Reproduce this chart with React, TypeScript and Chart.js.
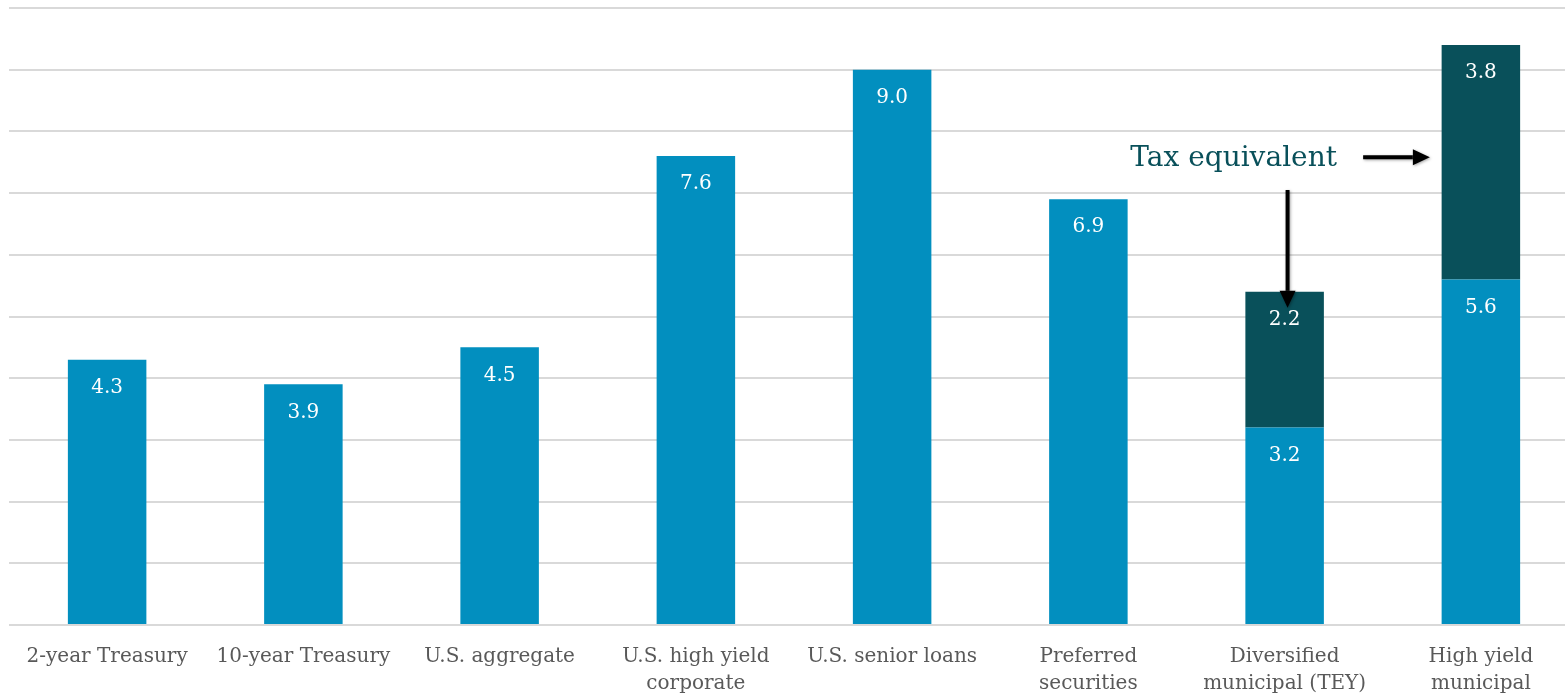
import React, { useEffect, useRef } from "react";
import { Chart, registerables } from "chart.js";

Chart.register(...registerables);

// Yields by asset class (%)
const categories: (string | string[])[] = [
  "2-year Treasury",
  "10-year Treasury",
  "U.S. aggregate",
  ["U.S. high yield", "corporate"],
  "U.S. senior loans",
  ["Preferred", "securities"],
  ["Diversified", "municipal (TEY)"],
  ["High yield", "municipal"],
];
const yieldValues: number[] = [4.3, 3.9, 4.5, 7.6, 9.0, 6.9, 3.2, 5.6];
const taxEquivalentValues: (number | null)[] = [null, null, null, null, null, null, 2.2, 3.8];

const BLUE = "#028fbf";
const TEAL = "#09505a";
const FONT = "'DejaVu Serif', 'Liberation Serif', serif";

// White value labels at the top of each bar segment
const valueLabels = {
  id: "valueLabels",
  afterDatasetsDraw(chart: any) {
    const ctx = chart.ctx;
    ctx.save();
    ctx.fillStyle = "#ffffff";
    ctx.font = `20px ${FONT}`;
    ctx.textAlign = "center";
    ctx.textBaseline = "middle";
    chart.data.datasets.forEach((ds: any, di: number) => {
      const meta = chart.getDatasetMeta(di);
      meta.data.forEach((el: any, i: number) => {
        const v = ds.data[i];
        if (v === null || v === undefined) return;
        ctx.fillText(v.toFixed(1), el.x, el.y + 28);
      });
    });
    ctx.restore();
  },
};

function arrow(ctx: CanvasRenderingContext2D, x1: number, y1: number, x2: number, y2: number) {
  const ang = Math.atan2(y2 - y1, x2 - x1);
  const head = 17;
  const half = 8;
  const bx = x2 - Math.cos(ang) * head;
  const by = y2 - Math.sin(ang) * head;
  ctx.beginPath();
  ctx.moveTo(x1, y1);
  ctx.lineTo(bx, by);
  ctx.stroke();
  ctx.beginPath();
  ctx.moveTo(x2, y2);
  ctx.lineTo(bx - Math.sin(ang) * half, by + Math.cos(ang) * half);
  ctx.lineTo(bx + Math.sin(ang) * half, by - Math.cos(ang) * half);
  ctx.closePath();
  ctx.fill();
}

// "Tax equivalent" callout with arrows pointing at the dark segments
const taxCallout = {
  id: "taxCallout",
  afterDraw(chart: any) {
    const ctx = chart.ctx;
    const xs = chart.scales.x;
    const ys = chart.scales.y;
    ctx.save();
    ctx.fillStyle = TEAL;
    ctx.font = `28px ${FONT}`;
    ctx.textAlign = "center";
    ctx.textBaseline = "middle";
    ctx.fillText("Tax equivalent", xs.getPixelForValue(5.74), ys.getPixelForValue(7.56));

    ctx.strokeStyle = "#000000";
    ctx.fillStyle = "#000000";
    ctx.lineWidth = 4;
    ctx.shadowColor = "rgba(0,0,0,0.35)";
    ctx.shadowBlur = 3;
    ctx.shadowOffsetX = 1;
    ctx.shadowOffsetY = 1;
    arrow(ctx, xs.getPixelForValue(6.4), ys.getPixelForValue(7.58), xs.getPixelForValue(6.74), ys.getPixelForValue(7.58));
    arrow(ctx, xs.getPixelForValue(6.015), ys.getPixelForValue(7.05), xs.getPixelForValue(6.015), ys.getPixelForValue(5.14));
    ctx.restore();
  },
};

export default function App() {
  const canvasRef = useRef<HTMLCanvasElement | null>(null);

  useEffect(() => {
    if (!canvasRef.current) return;
    const chart = new Chart(canvasRef.current, {
      type: "bar",
      data: {
        labels: categories,
        datasets: [
          {
            label: "Yield",
            data: yieldValues,
            backgroundColor: BLUE,
            borderWidth: 0,
            categoryPercentage: 1,
            barPercentage: 0.4,
          },
          {
            label: "Tax equivalent",
            data: taxEquivalentValues,
            backgroundColor: TEAL,
            borderWidth: 0,
            categoryPercentage: 1,
            barPercentage: 0.4,
          },
        ],
      },
      options: {
        responsive: false,
        animation: false,
        devicePixelRatio: 1,
        layout: { padding: { left: 9, right: 1, top: 8, bottom: 0 } },
        plugins: {
          legend: { display: false },
          tooltip: { enabled: false },
        },
        scales: {
          x: {
            stacked: true,
            grid: { display: false, drawTicks: false },
            border: { display: false },
            ticks: {
              color: "#595959",
              font: { family: FONT, size: 20, lineHeight: 1.35 },
              maxRotation: 0,
              minRotation: 0,
              autoSkip: false,
              padding: 18,
            },
            afterFit: (scale: any) => {
              scale.height = 70;
            },
          },
          y: {
            stacked: true,
            min: 0,
            max: 10,
            ticks: { display: false, stepSize: 1 },
            grid: { color: "#d9d9d9", lineWidth: 2, drawTicks: false },
            border: { display: false },
            afterFit: (scale: any) => {
              scale.width = 0;
            },
          },
        },
      },
      plugins: [valueLabels, taxCallout],
    });
    return () => chart.destroy();
  }, []);

  return (
    <div style={{ position: "fixed", left: 0, top: 0, width: "100vw", height: "100vh", overflow: "hidden", background: "#ffffff" }}>
      <canvas ref={canvasRef} width={1580} height={695} style={{ display: "block", width: 1580, height: 695 }} />
    </div>
  );
}
